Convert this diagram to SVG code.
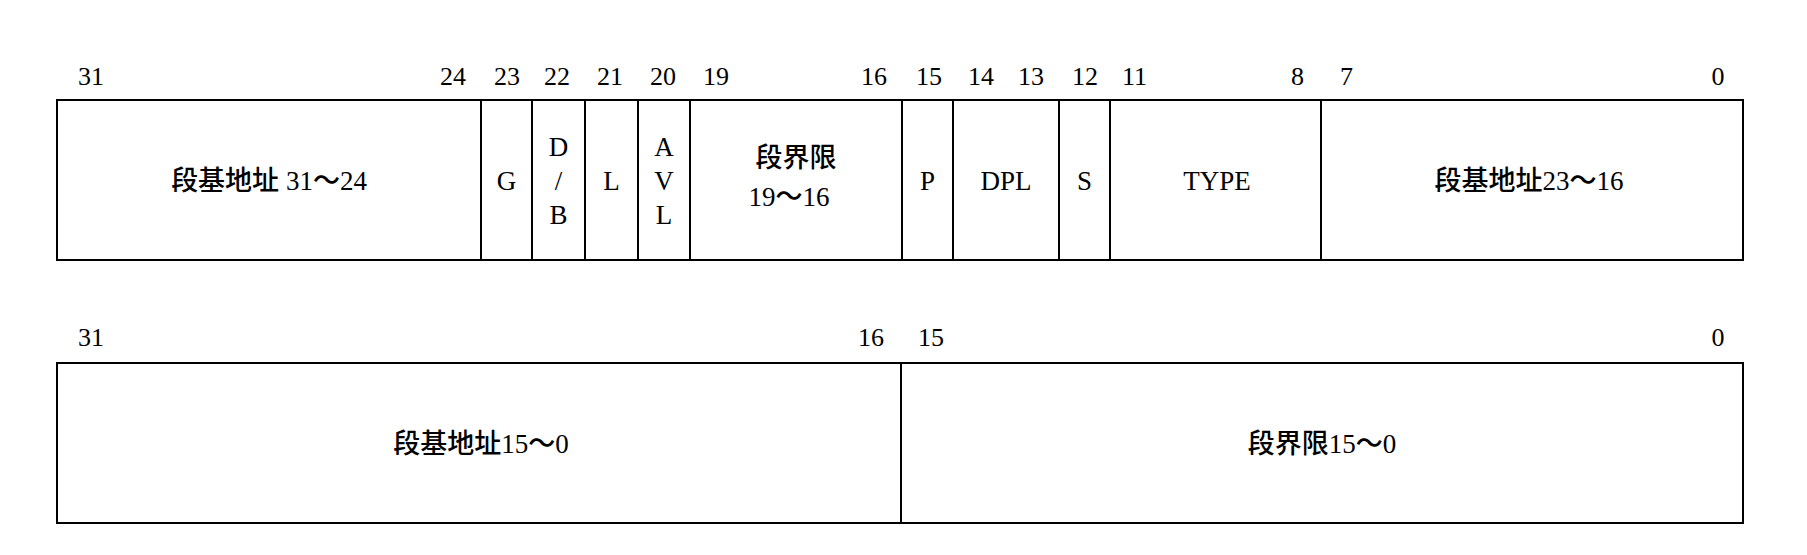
<svg xmlns="http://www.w3.org/2000/svg" width="1807" height="555" viewBox="0 0 1807 555">
<style>
.cell{fill:#fff;stroke:#000;stroke-width:2}
text{font-family:'Liberation Serif','Times New Roman',serif;fill:#000}
.bit{font-size:26px}
.lbl{font-size:27px;text-anchor:middle}
.e{text-anchor:end}
.m{text-anchor:middle}
.cjk{font-family:'Noto Sans CJK SC','Noto Sans CJK JP',sans-serif;font-weight:500}
</style>
<rect width="1807" height="555" fill="#fff"/>
<g id="bits-row1">
<text class="bit" x="78" y="85">31</text>
<text class="bit e" x="466" y="85">24</text>
<text class="bit m" x="507" y="85">23</text>
<text class="bit m" x="557" y="85">22</text>
<text class="bit m" x="610" y="85">21</text>
<text class="bit m" x="663" y="85">20</text>
<text class="bit" x="703" y="85">19</text>
<text class="bit e" x="887" y="85">16</text>
<text class="bit m" x="929" y="85">15</text>
<text class="bit m" x="981" y="85">14</text>
<text class="bit m" x="1031" y="85">13</text>
<text class="bit m" x="1085" y="85">12</text>
<text class="bit" x="1122" y="85">11</text>
<text class="bit e" x="1304" y="85">8</text>
<text class="bit" x="1340" y="85">7</text>
<text class="bit m" x="1718" y="85">0</text>
</g>
<g id="base-31-24"><rect class="cell" x="57" y="100" width="424" height="160"/><text class="lbl" x="269" y="190"><tspan class="cjk">段基地址</tspan> 31<tspan class="cjk">～</tspan>24</text></g>
<g id="G"><rect class="cell" x="481" y="100" width="51" height="160"/><text class="lbl" x="506.5" y="190">G</text></g>
<g id="DB"><rect class="cell" x="532" y="100" width="53" height="160"/><text class="lbl" x="558.5" y="156">D</text><text class="lbl" x="558.5" y="190">/</text><text class="lbl" x="558.5" y="224">B</text></g>
<g id="L"><rect class="cell" x="585" y="100" width="53" height="160"/><text class="lbl" x="611.5" y="190">L</text></g>
<g id="AVL"><rect class="cell" x="638" y="100" width="52" height="160"/><text class="lbl" x="664" y="156">A</text><text class="lbl" x="664" y="190">V</text><text class="lbl" x="664" y="224">L</text></g>
<g id="limit-19-16"><rect class="cell" x="690" y="100" width="212" height="160"/><text class="lbl" x="796" y="167"><tspan class="cjk">段界限</tspan></text><text class="lbl" x="789" y="206">19<tspan class="cjk">～</tspan>16</text></g>
<g id="P"><rect class="cell" x="902" y="100" width="51" height="160"/><text class="lbl" x="927.5" y="190">P</text></g>
<g id="DPL"><rect class="cell" x="953" y="100" width="106" height="160"/><text class="lbl" x="1006" y="190">DPL</text></g>
<g id="S"><rect class="cell" x="1059" y="100" width="51" height="160"/><text class="lbl" x="1084.5" y="190">S</text></g>
<g id="TYPE"><rect class="cell" x="1110" y="100" width="211" height="160"/><text class="lbl" x="1217" y="190">TYPE</text></g>
<g id="base-23-16"><rect class="cell" x="1321" y="100" width="422" height="160"/><text class="lbl" x="1529" y="190"><tspan class="cjk">段基地址</tspan>23<tspan class="cjk">～</tspan>16</text></g>
<g id="bits-row2">
<text class="bit" x="78" y="346">31</text>
<text class="bit e" x="884" y="346">16</text>
<text class="bit" x="918" y="346">15</text>
<text class="bit m" x="1718" y="346">0</text>
</g>
<g id="base-15-0"><rect class="cell" x="57" y="363" width="844" height="160"/><text class="lbl" x="481" y="453"><tspan class="cjk">段基地址</tspan>15<tspan class="cjk">～</tspan>0</text></g>
<g id="limit-15-0"><rect class="cell" x="901" y="363" width="842" height="160"/><text class="lbl" x="1322" y="453"><tspan class="cjk">段界限</tspan>15<tspan class="cjk">～</tspan>0</text></g>
</svg>
